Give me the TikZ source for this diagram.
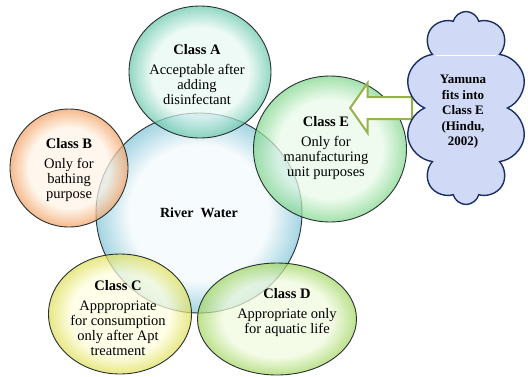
\documentclass[tikz,border=0pt]{standalone}
\usepackage{fontspec}
\setmainfont{Liberation Serif}
\usetikzlibrary{shapes.geometric,shapes.symbols,shapes.arrows}
\definecolor{borde}{RGB}{40,48,50}
\definecolor{rioin}{RGB}{242,249,252}
\definecolor{rioout}{RGB}{128,196,214}
\definecolor{ain}{RGB}{230,248,242}
\definecolor{aout}{RGB}{105,200,172}
\definecolor{bin}{RGB}{255,244,230}
\definecolor{bout}{RGB}{242,160,98}
\definecolor{cin}{RGB}{255,255,224}
\definecolor{cout}{RGB}{222,222,88}
\definecolor{din}{RGB}{240,250,222}
\definecolor{dout}{RGB}{162,214,98}
\definecolor{ein}{RGB}{232,250,232}
\definecolor{eout}{RGB}{128,214,140}
\definecolor{nube}{RGB}{208,218,246}
\definecolor{nubef}{RGB}{28,46,102}
\definecolor{oliva}{RGB}{150,178,72}
\colorlet{burin}{white}
\colorlet{burout}{gray}
\pgfdeclareradialshading[burin,burout]{burbuja}{\pgfpoint{0bp}{0bp}}{%
  color(0bp)=(burin); color(17bp)=(burin); color(25bp)=(burout); color(50bp)=(burout)}
\tikzset{
  burb/.style 2 args={ellipse, draw=borde, line width=0.9pt, fill opacity=0.72,
    /utils/exec={\colorlet{burin}{#1}\colorlet{burout}{#2}}, shading=burbuja},
  txt/.style={align=center, text=black, font=\fontsize{14.5}{15}\selectfont},
  tnube/.style={align=center, text=black, font=\fontsize{13}{15.5}\selectfont\bfseries},
}
\begin{document}
\begin{tikzpicture}[x=1pt, y=-1pt]
  \useasboundingbox (0,0) rectangle (528,376);
  % circles
  \node[burb={rioin}{rioout}, minimum width=206pt, minimum height=200pt] (rio) at (199,213) {};
  \node[burb={bin}{bout}, minimum width=118pt, minimum height=118pt] (clsB) at (69,168) {};
  \node[burb={ain}{aout}, minimum width=142pt, minimum height=132pt] (clsA) at (200,72) {};
  \node[burb={ein}{eout}, minimum width=153pt, minimum height=146pt] (clsE) at (330,149) {};
  \node[burb={cin}{cout}, minimum width=143pt, minimum height=120pt] (clsC) at (120,314) {};
  \node[burb={din}{dout}, minimum width=159pt, minimum height=112pt] (clsD) at (277,319) {};
  % arrow and cloud
  \node[single arrow, shape border rotate=180, draw=oliva, line width=2pt, fill=white,
    inner sep=10pt, single arrow head extend=14pt, single arrow tip angle=110,
    minimum height=62pt] (flecha) at (385,108) {};
  \node[cloud, cloud puffs=10, cloud puff arc=150, aspect=0.63, draw=nubef, line width=1.4pt,
    fill=nube, minimum width=122pt, minimum height=193pt] (yamuna) at (466,108) {};
  \draw[white, line width=0.8pt] (436,55) -- (496,55);
  % texts
  \node[txt, font=\fontsize{14}{15}\selectfont\bfseries] (tRio) at (rio.center) {River\enspace Water};
  \node[txt] (tA) at (197,75) {\textbf{Class A}\\[5pt]Acceptable after\\adding\\disinfectant};
  \node[txt] (tB) at (69,170) {\textbf{Class B}\\[5pt]Only for\\bathing\\purpose};
  \node[txt] (tE) at (326,148) {\textbf{Class E}\\[5pt]Only for\\manufacturing\\unit purposes};
  \node[txt] (tC) at (118,318) {\textbf{Class C}\\[5pt]Apppropriate\\for consumption\\only after Apt\\treatment};
  \node[txt] (tD) at (287,313) {\textbf{Class D}\\[5pt]Appropriate only\\for aquatic life};
  \node[tnube] (tY) at (463,112) {Yamuna\\fits into\\Class E\\(Hindu,\\2002)};
\end{tikzpicture}
\end{document}
